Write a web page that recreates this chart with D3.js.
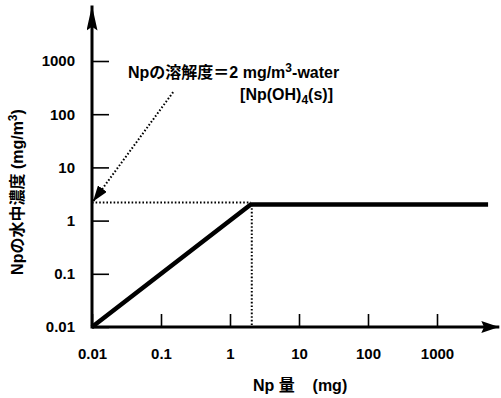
<!DOCTYPE html>
<html><head><meta charset="utf-8">
<script src="https://cdn.jsdelivr.net/npm/d3@7"></script>
<style>
html,body{margin:0;padding:0;background:#fff;}
text{font-family:"Liberation Sans",Arial,"Noto Sans CJK JP",sans-serif;font-weight:bold;fill:#000;}
</style></head>
<body><svg id="c" width="501" height="398"></svg>
<script>
// ---- data ----
const xTicks = [0.01, 0.1, 1, 10, 100, 1000];
const xTickLabels = ["0.01", "0.1", "1", "10", "100", "1000"];
const yTicks = [0.01, 0.1, 1, 10, 100, 1000];
const yTickLabels = ["0.01", "0.1", "1", "10", "100", "1000"];
const npAmount = [0.01, 2, 5500];        // mg
const npConc   = [0.01, 2, 2];           // mg/m3
const solubility = 2;                     // mg/m3
const arrowFrom = [0.15, 260];            // annotation arrow start (data coords)
const xAxisMax = 8000;   // axis arrow extent
const yAxisMax = 11000;

const svg = d3.select("#c");
const x = d3.scaleLog().domain([0.01, 1000]).range([92, 437]);
const y = d3.scaleLog().domain([0.01, 1000]).range([327, 61]);

const defs = svg.append("defs");
function marker(id, w, h, notch){
  defs.append("marker").attr("id",id).attr("viewBox","0 0 10 10").attr("refX",10).attr("refY",5)
    .attr("markerWidth",w).attr("markerHeight",h).attr("markerUnits","userSpaceOnUse").attr("orient","auto")
    .attr("preserveAspectRatio","none")
    .append("path").attr("d",`M0,0 L10,5 L0,10 L${notch},5 Z`).attr("fill","#000");
}
marker("ahx", 18, 12, 1.5);
marker("ahy", 25, 11, 1.5);
marker("ah2", 16, 11, 0);

// axes with ticks
const gx = svg.append("g").attr("transform",`translate(0,${y(0.01)})`)
  .call(d3.axisBottom(x).tickValues(xTicks).tickFormat((d,i)=>xTickLabels[i]).tickSizeInner(-13).tickSizeOuter(0).tickPadding(21));
const gy = svg.append("g").attr("transform",`translate(${x(0.01)},0)`)
  .call(d3.axisLeft(y).tickValues(yTicks).tickFormat((d,i)=>yTickLabels[i]).tickSizeInner(-17).tickSizeOuter(0).tickPadding(17));
[gx,gy].forEach(g=>{
  g.select(".domain").remove();
  g.selectAll(".tick line").attr("stroke","#000").attr("stroke-width",1.6);
  g.selectAll(".tick text").style("font-size","15px").style("font-family","'Liberation Sans',Arial,sans-serif").style("font-weight","bold").attr("fill","#000");
});

// axis lines with arrows
svg.append("line").attr("x1",x(0.01)).attr("y1",y(0.01)).attr("x2",x(xAxisMax)).attr("y2",y(0.01))
  .attr("stroke","#000").attr("stroke-width",3).attr("marker-end","url(#ahx)");
svg.append("line").attr("x1",x(0.01)).attr("y1",y(0.01)+1.5).attr("x2",x(0.01)).attr("y2",y(yAxisMax))
  .attr("stroke","#000").attr("stroke-width",3).attr("marker-end","url(#ahy)");

// dotted guides
svg.append("line").attr("x1",x(0.01)).attr("x2",x(solubility)).attr("y1",y(solubility)-2).attr("y2",y(solubility)-2)
  .attr("stroke","#000").attr("stroke-width",2).attr("stroke-dasharray","1.6,2");
svg.append("line").attr("x1",x(solubility)+1).attr("x2",x(solubility)+1).attr("y1",y(solubility)).attr("y2",y(0.01))
  .attr("stroke","#000").attr("stroke-width",2).attr("stroke-dasharray","1.6,2");

// data line
const line = d3.line().x(d=>x(d[0])).y(d=>y(d[1]));
svg.append("path").datum(npAmount.map((v,i)=>[v,npConc[i]])).attr("d",line)
  .attr("fill","none").attr("stroke","#000").attr("stroke-width",4.5).attr("stroke-linejoin","miter");

// annotation arrow
svg.append("line").attr("x1",x(arrowFrom[0])).attr("y1",y(arrowFrom[1]))
  .attr("x2",x(0.01)+1).attr("y2",y(solubility)-3)
  .attr("stroke","#000").attr("stroke-width",2).attr("stroke-dasharray","1.6,2").attr("marker-end","url(#ah2)");

// annotation text
const t1 = svg.append("text").attr("x",128).attr("y",78).style("font-size","16px");
t1.append("tspan").text("Npの溶解度＝2 mg/m");
t1.append("tspan").attr("dy",-6).style("font-size","12px").text("3");
t1.append("tspan").attr("dy",6).text("-water");
const t2 = svg.append("text").attr("x",333).attr("y",100).attr("text-anchor","end").style("font-size","16px");
t2.append("tspan").text("[Np(OH)");
t2.append("tspan").attr("dy",4).style("font-size","12px").text("4");
t2.append("tspan").attr("dy",-4).text("(s)]");

// axis titles
svg.append("text").attr("x",253).attr("y",391).style("font-size","16px").attr("xml:space","preserve").style("white-space","pre")
  .text("Np 量    (mg)");
const yt = svg.append("text").attr("transform","translate(23,192) rotate(-90)").attr("text-anchor","middle").style("font-size","16px");
yt.append("tspan").text("Npの水中濃度 (mg/m");
yt.append("tspan").attr("dy",-6).style("font-size","12px").text("3");
yt.append("tspan").attr("dy",6).text(")");
</script></body></html>
